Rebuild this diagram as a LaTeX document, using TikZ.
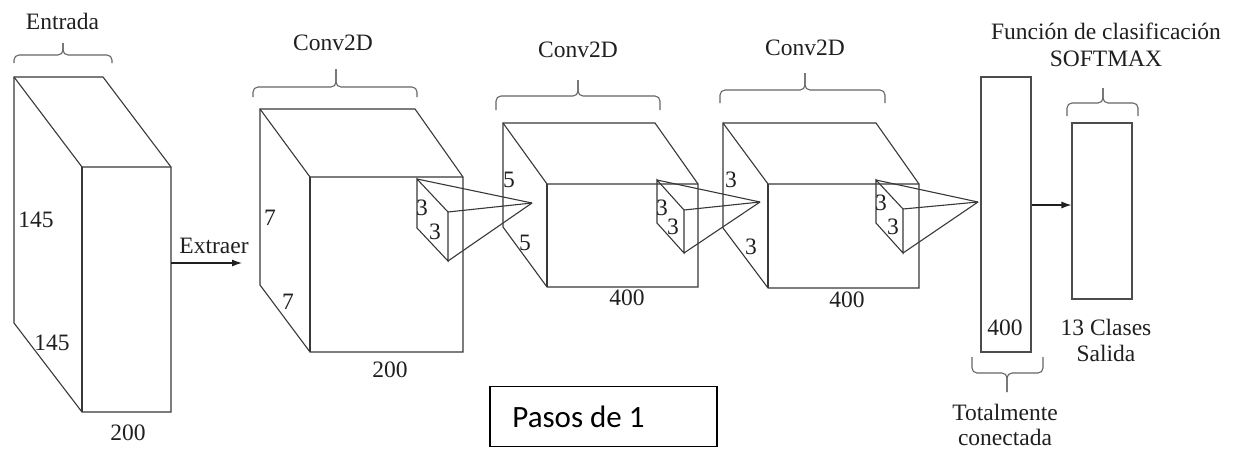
\documentclass[tikz,border=0pt]{standalone}
\usepackage{fontspec}
\setmainfont{Liberation Serif}
\newfontfamily\calib{Carlito}
\usetikzlibrary{arrows.meta}
\tikzset{
  edge/.style={draw=black!78, line width=1.1pt, line join=miter},
  bracepath/.style={draw=black!60, line width=1.1pt, rounded corners=5pt},
  lbl/.style={inner sep=0pt, text=black!88, font=\fontsize{23.5}{27}\selectfont},
  arr/.style={draw=black!88, line width=1.2pt, -{Latex[length=10pt,width=7pt]}},
  layerbox/.style={draw=black!70, line width=1.1pt, inner sep=0pt, fill=none}
}
\newcommand\mybrace[6]{% x1,x2,yend,yh,ytip,xtip
  \draw[bracepath] (#1,#3) -- (#1,#4) -- (#6,#4) -- (#6,#5);
  \draw[bracepath] (#2,#3) -- (#2,#4) -- (#6,#4) -- (#6,#5);
}
\begin{document}
\begin{tikzpicture}[x=1pt,y=-1pt]
\useasboundingbox (0,0) rectangle (1233,456);
% ---------- Input box ----------
\coordinate (ibtl) at (14,77);  \coordinate (ibtr) at (103,77);
\coordinate (iftl) at (82,167); \coordinate (iftr) at (171,167);
\coordinate (ifbr) at (171,412);\coordinate (ifbl) at (82,412);
\coordinate (ibbl) at (14,323);
\draw[edge] (ibbl) -- (ibtl) -- (ibtr) -- (iftr) -- (ifbr) -- (ifbl) -- cycle;
\draw[edge] (ibtl) -- (iftl) -- (iftr);
\draw[edge] (iftl) -- (ifbl);
\mybrace{14}{112}{63}{55}{43}{63}
\node[lbl] (tin) at (62.5,21) {Entrada};
\node[lbl] (in145a) at (36,220) {145};
\node[lbl] (in145b) at (52,343) {145};
\node[lbl] (in200) at (128,433) {200};
% ---------- Conv1 ----------
\coordinate (abtl) at (260,109); \coordinate (abtr) at (415,109);
\coordinate (aftl) at (310,177); \coordinate (aftr) at (463,177);
\coordinate (afbr) at (463,352); \coordinate (afbl) at (310,352);
\coordinate (abbl) at (260,285);
\draw[edge] (abbl) -- (abtl) -- (abtr) -- (aftr) -- (afbr) -- (afbl) -- cycle;
\draw[edge] (abtl) -- (aftl) -- (aftr);
\draw[edge] (aftl) -- (afbl);
\mybrace{253}{417}{97}{87}{69}{336}
\node[lbl] (ta) at (333,43) {Conv2D};
\node[lbl] (a7a) at (270,218) {7};
\node[lbl] (a7b) at (288,302) {7};
\node[lbl] (a200) at (390,370) {200};
% arrow Extraer
\coordinate (exs) at (171,263);
\coordinate (exe) at (242,263);
\draw[arr] (exs) -- (exe);
\node[lbl] (text) at (214,246) {Extraer};
% ---------- Conv2 ----------
\coordinate (bbtl) at (503,123); \coordinate (bbtr) at (655,123);
\coordinate (bftl) at (547,184); \coordinate (bftr) at (698,184);
\coordinate (bfbr) at (698,287); \coordinate (bfbl) at (547,287);
\coordinate (bbbl) at (503,227);
\draw[edge] (bbbl) -- (bbtl) -- (bbtr) -- (bftr) -- (bfbr) -- (bfbl) -- cycle;
\draw[edge] (bbtl) -- (bftl) -- (bftr);
\draw[edge] (bftl) -- (bfbl);
\mybrace{496}{660}{110}{96}{80}{578}
\node[lbl] (tb) at (578,50) {Conv2D};
\node[lbl] (b5a) at (509,180) {5};
\node[lbl] (b5b) at (525,243) {5};
\node[lbl] (b400) at (627,298) {400};
% ---------- Conv3 ----------
\coordinate (cbtl) at (723,123); \coordinate (cbtr) at (876,123);
\coordinate (cftl) at (768,184); \coordinate (cftr) at (919,184);
\coordinate (cfbr) at (919,288); \coordinate (cfbl) at (768,288);
\coordinate (cbbl) at (723,228);
\draw[edge] (cbbl) -- (cbtl) -- (cbtr) -- (cftr) -- (cfbr) -- (cfbl) -- cycle;
\draw[edge] (cbtl) -- (cftl) -- (cftr);
\draw[edge] (cftl) -- (cfbl);
\mybrace{720}{885}{103}{90}{73}{805}
\node[lbl] (tc) at (805,48) {Conv2D};
\node[lbl] (c3a) at (731,180) {3};
\node[lbl] (c3b) at (751,247) {3};
\node[lbl] (c400) at (847,300) {400};
% ---------- Kernels ----------
% k1
\coordinate (k1a) at (417,179); \coordinate (k1b) at (417,228);
\coordinate (k1c) at (448,212); \coordinate (k1d) at (448,261);
\coordinate (p1) at (532,203);
\draw[edge] (k1a) -- (k1b) -- (k1d) -- (k1c) -- cycle;
\draw[edge] (k1a) -- (p1); \draw[edge] (k1c) -- (p1); \draw[edge] (k1d) -- (p1);
\node[lbl] (k1t1) at (422,208) {3};
\node[lbl] (k1t2) at (435,232) {3};
% k2
\coordinate (k2a) at (657,180); \coordinate (k2b) at (657,223);
\coordinate (k2c) at (684,210); \coordinate (k2d) at (684,253);
\coordinate (p2) at (760,202);
\draw[edge] (k2a) -- (k2b) -- (k2d) -- (k2c) -- cycle;
\draw[edge] (k2a) -- (p2); \draw[edge] (k2c) -- (p2); \draw[edge] (k2d) -- (p2);
\node[lbl] (k2t1) at (662,208) {3};
\node[lbl] (k2t2) at (673,227) {3};
% k3
\coordinate (k3a) at (876,180); \coordinate (k3b) at (876,223);
\coordinate (k3c) at (903,209); \coordinate (k3d) at (903,253);
\coordinate (p3) at (978,202);
\draw[edge] (k3a) -- (k3b) -- (k3d) -- (k3c) -- cycle;
\draw[edge] (k3a) -- (p3); \draw[edge] (k3c) -- (p3); \draw[edge] (k3d) -- (p3);
\node[lbl] (k3t1) at (881,203) {3};
\node[lbl] (k3t2) at (893,227) {3};
% ---------- Fully connected ----------
\node[layerbox, minimum width=50pt, minimum height=275pt] (fc) at (1006,214.5) {};
\node[lbl] (fc400) at (1005,328) {400};
\mybrace{972}{1043}{357}{373}{392}{1007}
\node[lbl, align=center] (tfc) at (1005,425) {Totalmente\\[-1.5pt]conectada};
% ---------- Softmax ----------
\node[layerbox, minimum width=60pt, minimum height=176pt] (sm) at (1102,211) {};
\mybrace{1067}{1138}{116}{103}{88}{1103}
\node[lbl, align=center] (tsm) at (1106,45) {Función de clasificación\\[-0.5pt]SOFTMAX};
\node[lbl, align=center] (tout) at (1106,340) {13 Clases\\[-1pt]Salida};
\draw[arr] (fc.east |- 0,205) -- (sm.west |- 0,205);
% ---------- Pasos ----------
\node[draw=black, line width=1.6pt, minimum width=227pt, minimum height=60pt, inner sep=0pt,
      font=\calib\fontsize{31}{35}\selectfont, text=black] (pasos) at (603.5,416.5) {\hspace*{-50pt}Pasos de 1};
\end{tikzpicture}
\end{document}
